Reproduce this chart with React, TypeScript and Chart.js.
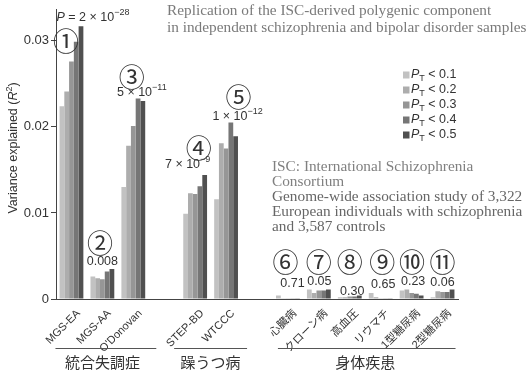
import React, { useEffect, useRef } from "react";
import { Chart, registerables } from "chart.js";

Chart.register(...registerables);

// ---------- data ----------
const categories = [
  "MGS-EA", "MGS-AA", "O'Donovan", "",
  "STEP-BD", "WTCCC", "",
  "心臓病", "クローン病", "高血圧", "リウマチ", "1型糖尿病", "2型糖尿病",
];
const seriesLabels = ["0.1", "0.2", "0.3", "0.4", "0.5"];
const pt01 = [0.0224, 0.0026, 0.0130, null, 0.0099, 0.0116, null, 0.0004, 0.0011, 0.0002, 0.0007, 0.0010, 0.0002];
const pt02 = [0.0241, 0.0024, 0.0178, null, 0.0123, 0.0181, null, 0.0001, 0.0007, 0.0002, 0.0002, 0.0011, 0.0009];
const pt03 = [0.0276, 0.0023, 0.0201, null, 0.0122, 0.0175, null, 0.0001, 0.0010, 0.0003, 0.0001, 0.0007, 0.0008];
const pt04 = [0.0299, 0.0032, 0.0233, null, 0.0131, 0.0205, null, 0.0001, 0.0010, 0.0003, 0.0001, 0.0006, 0.0008];
const pt05 = [0.0317, 0.0035, 0.0230, null, 0.0144, 0.0189, null, 0.0001, 0.0011, 0.0004, 0.0001, 0.0004, 0.0011];
const yTickValues = [0, 0.01, 0.02, 0.03];

const circleLabels = ["①", "②", "③", "④", "⑤", "⑥", "⑦", "⑧", "⑨", "⑩", "⑪"];
const circleIdx = [0, 1, 2, 4, 5, 7, 8, 9, 10, 11, 12];
const pLabels = [
  "P = 2 × 10^−28", "0.008", "5 × 10^−11", "7 × 10^−9", "1 × 10^−12",
  "0.71", "0.05", "0.30", "0.65", "0.23", "0.06",
];

const groupLabels = ["統合失調症", "躁うつ病", "身体疾患"];
const groupFrom = [0, 4, 7];
const groupTo = [2, 5, 12];

const titleLines = [
  "Replication of the ISC-derived polygenic component",
  "in independent schizophrenia and bipolar disorder samples",
];
const noteLines = [
  "ISC: International Schizophrenia",
  "Consortium",
  "Genome-wide association study of 3,322",
  "European individuals with schizophrenia",
  "and 3,587 controls",
];

// ---------- layout / style ----------
const colors = ["#c2c2c2", "#adadad", "#969696", "#767676", "#505050"];
const circleDx = [-5.5, -2.5, -1.5, 3.5, 12.5, -2.5, 0, 0, 1.5, 0.5, 0];
const circleY = [0.0300, 0.0065, 0.0258, 0.0175, 0.0235, 0.0043, 0.0043, 0.0043, 0.0043, 0.0043, 0.0043];
const pDx = [21.5, 0, 8.5, -7.5, 11.5, 4.5, 0.5, 2.5, 2.5, 1.5, 0];
const pY = [0.0327, 0.0043, 0.0240, 0.0156, 0.0212, 0.0018, 0.0020, 0.0009, 0.0017, 0.0020, 0.0019];
const groupLineLeft = [16, 21, 10];
const groupLineRight = [23, 21, 13];

const SANS = "'Liberation Sans', Arial, sans-serif";
const SERIF = "'Liberation Serif', 'Times New Roman', serif";
const CJK = "'Noto Sans CJK JP', sans-serif";

type Seg = { t: string; it?: boolean; sup?: boolean; sub?: boolean };

function parseRich(s: string): Seg[] {
  const segs: Seg[] = [];
  const [base, sup] = s.split("^");
  if (base.startsWith("P ")) {
    segs.push({ t: "P", it: true });
    segs.push({ t: base.slice(1) });
  } else {
    segs.push({ t: base });
  }
  if (sup) segs.push({ t: sup, sup: true });
  return segs;
}

function drawRich(
  ctx: CanvasRenderingContext2D,
  segs: Seg[],
  x: number,
  y: number,
  size: number,
  align: "left" | "center" | "right",
  family: string
) {
  const parts = segs.map((s) => {
    const fs = s.sup || s.sub ? size * 0.72 : size;
    const font = `${s.it ? "italic " : ""}${fs}px ${family}`;
    ctx.font = font;
    return { ...s, font, w: ctx.measureText(s.t).width };
  });
  const total = parts.reduce((a, p) => a + p.w, 0);
  let cx = align === "center" ? x - total / 2 : align === "right" ? x - total : x;
  ctx.textAlign = "left";
  ctx.textBaseline = "middle";
  for (const p of parts) {
    ctx.font = p.font;
    const dy = p.sup ? -size * 0.38 : p.sub ? size * 0.3 : 0;
    ctx.fillText(p.t, cx, y + dy);
    cx += p.w;
  }
}

const decorPlugin = {
  id: "decor",
  afterDraw(chart: any) {
    const ctx: CanvasRenderingContext2D = chart.ctx;
    const xs = chart.scales.x;
    const ys = chart.scales.y;
    ctx.save();

    // y-axis title
    ctx.fillStyle = "#333";
    ctx.save();
    ctx.translate(14, 148);
    ctx.rotate(-Math.PI / 2);
    drawRich(
      ctx,
      [{ t: "Variance explained (" }, { t: "R", it: true }, { t: "2", sup: true }, { t: ")" }],
      0, 0, 12.5, "center", SANS
    );
    ctx.restore();

    // annotations
    circleLabels.forEach((c, i) => {
      const cx = xs.getPixelForValue(circleIdx[i]);
      ctx.fillStyle = "#333";
      ctx.font = `26px ${CJK}`;
      ctx.textAlign = "center";
      ctx.textBaseline = "middle";
      ctx.fillText(c, cx + circleDx[i], ys.getPixelForValue(circleY[i]));
      drawRich(ctx, parseRich(pLabels[i]), cx + pDx[i], ys.getPixelForValue(pY[i]), 12.5, "center", SANS);
    });

    // legend
    seriesLabels.forEach((l, i) => {
      const y = 75 + i * 15;
      ctx.fillStyle = colors[i];
      ctx.fillRect(403, y - 3.5, 6.5, 7);
      ctx.fillStyle = "#333";
      drawRich(ctx, [{ t: "P", it: true }, { t: "T", sub: true }, { t: " < " + l }], 411, y, 12.5, "left", SANS);
    });

    // title and note
    ctx.font = `15.3px ${SERIF}`;
    ctx.textAlign = "left";
    ctx.textBaseline = "middle";
    ctx.fillStyle = "#7a7a7a";
    titleLines.forEach((t, i) => ctx.fillText(t, 167, 11 + i * 17));
    noteLines.forEach((t, i) => {
      ctx.fillStyle = i < 2 ? "#808080" : "#666";
      ctx.fillText(t, 272, 167 + i * 15);
    });

    // group labels
    groupLabels.forEach((g, i) => {
      const x1 = xs.getPixelForValue(groupFrom[i]);
      const x2 = xs.getPixelForValue(groupTo[i]);
      ctx.strokeStyle = "#555";
      ctx.lineWidth = 1;
      ctx.beginPath();
      ctx.moveTo(x1 - groupLineLeft[i], 348.5);
      ctx.lineTo(x2 + groupLineRight[i], 348.5);
      ctx.stroke();
      ctx.fillStyle = "#333";
      ctx.font = `15px ${CJK}`;
      ctx.textAlign = "center";
      ctx.textBaseline = "middle";
      ctx.fillText(g, (x1 + x2) / 2, 362);
    });
    ctx.restore();
  },
};

export default function App() {
  const ref = useRef<HTMLCanvasElement | null>(null);
  useEffect(() => {
    if (!ref.current) return;
    const series = [pt01, pt02, pt03, pt04, pt05];
    const chart = new Chart(ref.current, {
      type: "bar",
      data: {
        labels: categories,
        datasets: series.map((d, i) => ({
          label: "P_T < " + seriesLabels[i],
          data: d,
          backgroundColor: colors[i],
          borderWidth: 0,
          barPercentage: 1,
          categoryPercentage: 0.77,
        })),
      },
      options: {
        animation: false,
        responsive: true,
        maintainAspectRatio: false,
        layout: { padding: { top: 3, right: 73, left: 0, bottom: 0 } },
        plugins: { legend: { display: false }, tooltip: { enabled: false }, title: { display: false } },
        scales: {
          x: {
            grid: { display: false },
            border: { display: true, color: "#444", width: 1 },
            ticks: {
              autoSkip: false,
              maxRotation: 45,
              minRotation: 45,
              padding: 0,
              labelOffset: 7,
              color: "#333",
              font: { family: "'Liberation Sans', 'Noto Sans CJK JP', sans-serif", size: 11 },
            },
            afterFit: (s: any) => { s.height = 71; },
          },
          y: {
            min: 0,
            max: 0.0336,
            grid: { drawOnChartArea: false, drawTicks: true, tickLength: 5, color: "#444" },
            border: { display: true, color: "#444", width: 1 },
            afterBuildTicks: (s: any) => { s.ticks = yTickValues.map((v) => ({ value: v })); },
            ticks: {
              padding: 2,
              color: "#333",
              font: { family: SANS, size: 13 },
              callback: (v: any) => (v === 0 ? "0" : Number(v).toFixed(2)),
            },
            afterFit: (s: any) => { s.width = 56; },
          },
        },
      },
      plugins: [decorPlugin],
    });
    return () => chart.destroy();
  }, []);
  return (
    <div style={{ position: "fixed", left: 0, top: 0, width: 531, height: 370, background: "#fff" }}>
      <canvas ref={ref} />
    </div>
  );
}
